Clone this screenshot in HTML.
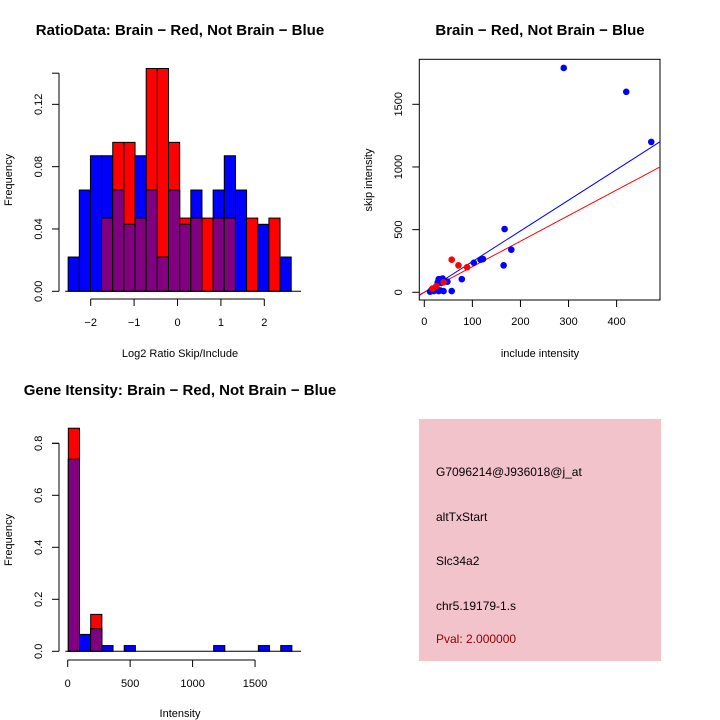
<!DOCTYPE html>
<html><head><meta charset="utf-8"><style>
html,body{margin:0;padding:0;background:#fff}
svg{display:block;font-family:"Liberation Sans",sans-serif}
</style></head><body>
<svg id="c" width="720" height="720" viewBox="0 0 720 720">
<rect width="720" height="720" fill="#fff"/>
<g id="p1"></g>
<g id="p2"></g>
<g id="p3"></g>
<g>
<rect x="419" y="419" width="242" height="242" fill="#f3c3cc"/>
<text x="436" y="476" font-size="12" fill="#000">G7096214@J936018@j_at</text>
<text x="436" y="521" font-size="12" fill="#000">altTxStart</text>
<text x="436" y="565" font-size="12" fill="#000">Slc34a2</text>
<text x="436" y="610" font-size="12" fill="#000">chr5.19179-1.s</text>
<text x="436" y="643" font-size="12" fill="#8b0000">Pval: 2.000000</text>
</g>
</svg>
<script>
// Ratio histogram data
const ratioEdgeStart = -2.52, ratioBinWidth = 0.257;
const ratioBlue = [0.022,0.065,0.087,0.087,0.065,0.043,0.087,0.065,0.022,0.065,0.043,0.065,0,0.065,0.087,0.065,0,0.043,0,0.022];
const ratioRed  = [0,0,0,0.047,0.0956,0.0956,0.047,0.143,0.143,0.0956,0.047,0.047,0.047,0.047,0.047,0,0.047,0,0.047,0];
const ratioYTicks = [0,0.04,0.08,0.12];
const ratioXTicks = [-2,-1,0,1,2];
// Scatter data
const blueInclude = [290,420,472,167,165,181,103,117,122,78,57,48,38,30,28,35,25,20,12,30,40,15,33];
const blueSkip    = [1790,1600,1200,505,215,340,235,260,265,105,10,85,110,105,80,75,40,10,5,10,10,20,15];
const redInclude = [57,71,89,17,25,40];
const redSkip    = [260,215,200,30,50,80];
const fitSlopes = [2.45,2.04];
const fitIntercepts = [0,0];
const scatterXTicks = [0,100,200,300,400];
const scatterYTicks = [0,500,1000,1500];
// Intensity histogram data
const intEdgeStart = 5, intBinWidth = 89.5;
const intBlue = [0.739,0.065,0.087,0.022,0,0.022,0,0,0,0,0,0,0,0.022,0,0,0,0.022,0,0.022];
const intRed  = [0.858,0,0.142,0,0,0,0,0,0,0,0,0,0,0,0,0,0,0,0,0];
const intYTicks = [0,0.2,0.4,0.6,0.8];
const intXTicks = [0,500,1000,1500];

const NS="http://www.w3.org/2000/svg";
function mk(parent,tag,attrs,txt){const e=document.createElementNS(NS,tag);for(const k in attrs)e.setAttribute(k,attrs[k]);if(txt!==undefined)e.textContent=txt;parent.appendChild(e);return e;}

function hist(g,o){
  const sx=v=>o.x0+(v-o.xv0)*o.xk, sy=v=>o.y0-v*o.yk;
  for(let i=0;i<o.blue.length;i++){
    const a=o.start+i*o.bw,b=a+o.bw,x=sx(a),w=sx(b)-x;
    const bl=o.blue[i],rd=o.red[i],mn=Math.min(bl,rd);
    if(bl>0){const r=mk(g,'rect',{x:x,y:sy(bl),width:w,height:sy(0)-sy(bl),fill:'#0000ff',stroke:'#000','stroke-width':1});
      
      }
    if(rd>0){const r=mk(g,'rect',{x:x,y:sy(rd),width:w,height:sy(0)-sy(rd),fill:'#ff0000',stroke:'#000','stroke-width':1});
      
      }
    if(mn>0){const r=mk(g,'rect',{x:x,y:sy(mn),width:w,height:sy(0)-sy(mn),fill:'#800080',stroke:'#000','stroke-width':1});
      
      }
  }
  mk(g,'line',{x1:sx(o.start)-3,x2:o.baseEnd,y1:sy(0),y2:sy(0),stroke:'#000'});
  const yt=o.yTicks;
  mk(g,'line',{x1:o.yAxisX,x2:o.yAxisX,y1:sy(0),y2:sy(o.yMax),stroke:'#000'});
  for(const t of yt.concat([o.yMax])){mk(g,'line',{x1:o.yAxisX-7,x2:o.yAxisX,y1:sy(t),y2:sy(t),stroke:'#000'});}
  for(const t of yt){const y=sy(t);const tx=mk(g,'text',{x:0,y:0,'font-size':11,'text-anchor':'middle',transform:`translate(${o.yAxisX-17},${y}) rotate(-90)`},o.yFmt(t));
    
    }
  const xt=o.xTicks;
  mk(g,'line',{x1:sx(xt[0]),x2:sx(xt[xt.length-1]),y1:o.xAxisY,y2:o.xAxisY,stroke:'#000'});
  for(const t of xt){mk(g,'line',{x1:sx(t),x2:sx(t),y1:o.xAxisY,y2:o.xAxisY+7,stroke:'#000'});
    const tx=mk(g,'text',{x:sx(t),y:o.xAxisY+27,'font-size':11,'text-anchor':'middle'},String(t).replace('-','\u2212'));
    
    }
}

const g1=document.getElementById('p1');
hist(g1,{x0:177.5,xv0:0,xk:43.4,y0:291.3,yk:1558,start:ratioEdgeStart,bw:ratioBinWidth,blue:ratioBlue,red:ratioRed,
  yTicks:ratioYTicks,yMax:0.14,yAxisX:59,xTicks:ratioXTicks,xAxisY:299,baseEnd:301,yFmt:t=>t.toFixed(2)});
let t;
t=mk(g1,'text',{x:180,y:35,'font-size':15,'font-weight':'bold','text-anchor':'middle'},'RatioData: Brain \u2212 Red, Not Brain \u2212 Blue');

t=mk(g1,'text',{x:180,y:357,'font-size':11,'text-anchor':'middle'},'Log2 Ratio Skip/Include');

t=mk(g1,'text',{x:0,y:0,'font-size':11,'text-anchor':'middle',transform:'translate(12,180) rotate(-90)'},'Frequency');


const g3=document.getElementById('p3');
hist(g3,{x0:67.7,xv0:0,xk:0.1249,y0:651.3,yk:260,start:intEdgeStart,bw:intBinWidth,blue:intBlue,red:intRed,
  yTicks:intYTicks,yMax:0.8,yAxisX:59,xTicks:intXTicks,xAxisY:660,baseEnd:301,yFmt:t=>t.toFixed(1)});
t=mk(g3,'text',{x:180,y:395,'font-size':15,'font-weight':'bold','text-anchor':'middle'},'Gene Itensity: Brain \u2212 Red, Not Brain \u2212 Blue');

t=mk(g3,'text',{x:180,y:717,'font-size':11,'text-anchor':'middle'},'Intensity');

t=mk(g3,'text',{x:0,y:0,'font-size':11,'text-anchor':'middle',transform:'translate(12,540) rotate(-90)'},'Frequency');


const g2=document.getElementById('p2');
const sx=v=>424.3+v*0.4808, sy=v=>292.3-v*0.12533;
mk(g2,'rect',{x:419.3,y:59.3,width:240.7,height:240.7,fill:'none',stroke:'#000'});
const fitColors=['#0000ff','#ff0000'];
const cp=mk(g2,'clipPath',{id:'cl'});mk(cp,'rect',{x:419.3,y:59.3,width:240.7,height:240.7});
for(let i=0;i<fitSlopes.length;i++){const xa=-20,xb=520;
  const l=mk(g2,'line',{x1:sx(xa),y1:sy(fitIntercepts[i]+fitSlopes[i]*xa),x2:sx(xb),y2:sy(fitIntercepts[i]+fitSlopes[i]*xb),stroke:fitColors[i],'stroke-width':1,'clip-path':'url(#cl)'});
  
  }
for(let i=0;i<blueInclude.length;i++){const c=mk(g2,'circle',{cx:sx(blueInclude[i]),cy:sy(blueSkip[i]),r:3.3,fill:'#0000ff'});
  
  }
for(let i=0;i<redInclude.length;i++){const c=mk(g2,'circle',{cx:sx(redInclude[i]),cy:sy(redSkip[i]),r:3.3,fill:'#ff0000'});
  
  }
for(const v of scatterXTicks){mk(g2,'line',{x1:sx(v),x2:sx(v),y1:300,y2:307,stroke:'#000'});
  const tx=mk(g2,'text',{x:sx(v),y:325,'font-size':11,'text-anchor':'middle'},String(v));
  
  }
for(const v of scatterYTicks){mk(g2,'line',{x1:419.3,x2:412.3,y1:sy(v),y2:sy(v),stroke:'#000'});
  const tx=mk(g2,'text',{x:0,y:0,'font-size':11,'text-anchor':'middle',transform:`translate(402,${sy(v)}) rotate(-90)`},String(v));
  
  }
t=mk(g2,'text',{x:540,y:35,'font-size':15,'font-weight':'bold','text-anchor':'middle'},'Brain \u2212 Red, Not Brain \u2212 Blue');

t=mk(g2,'text',{x:540,y:357,'font-size':11,'text-anchor':'middle'},'include intensity');

t=mk(g2,'text',{x:0,y:0,'font-size':11,'text-anchor':'middle',transform:'translate(372,180) rotate(-90)'},'skip intensity');

</script>
</body></html>
